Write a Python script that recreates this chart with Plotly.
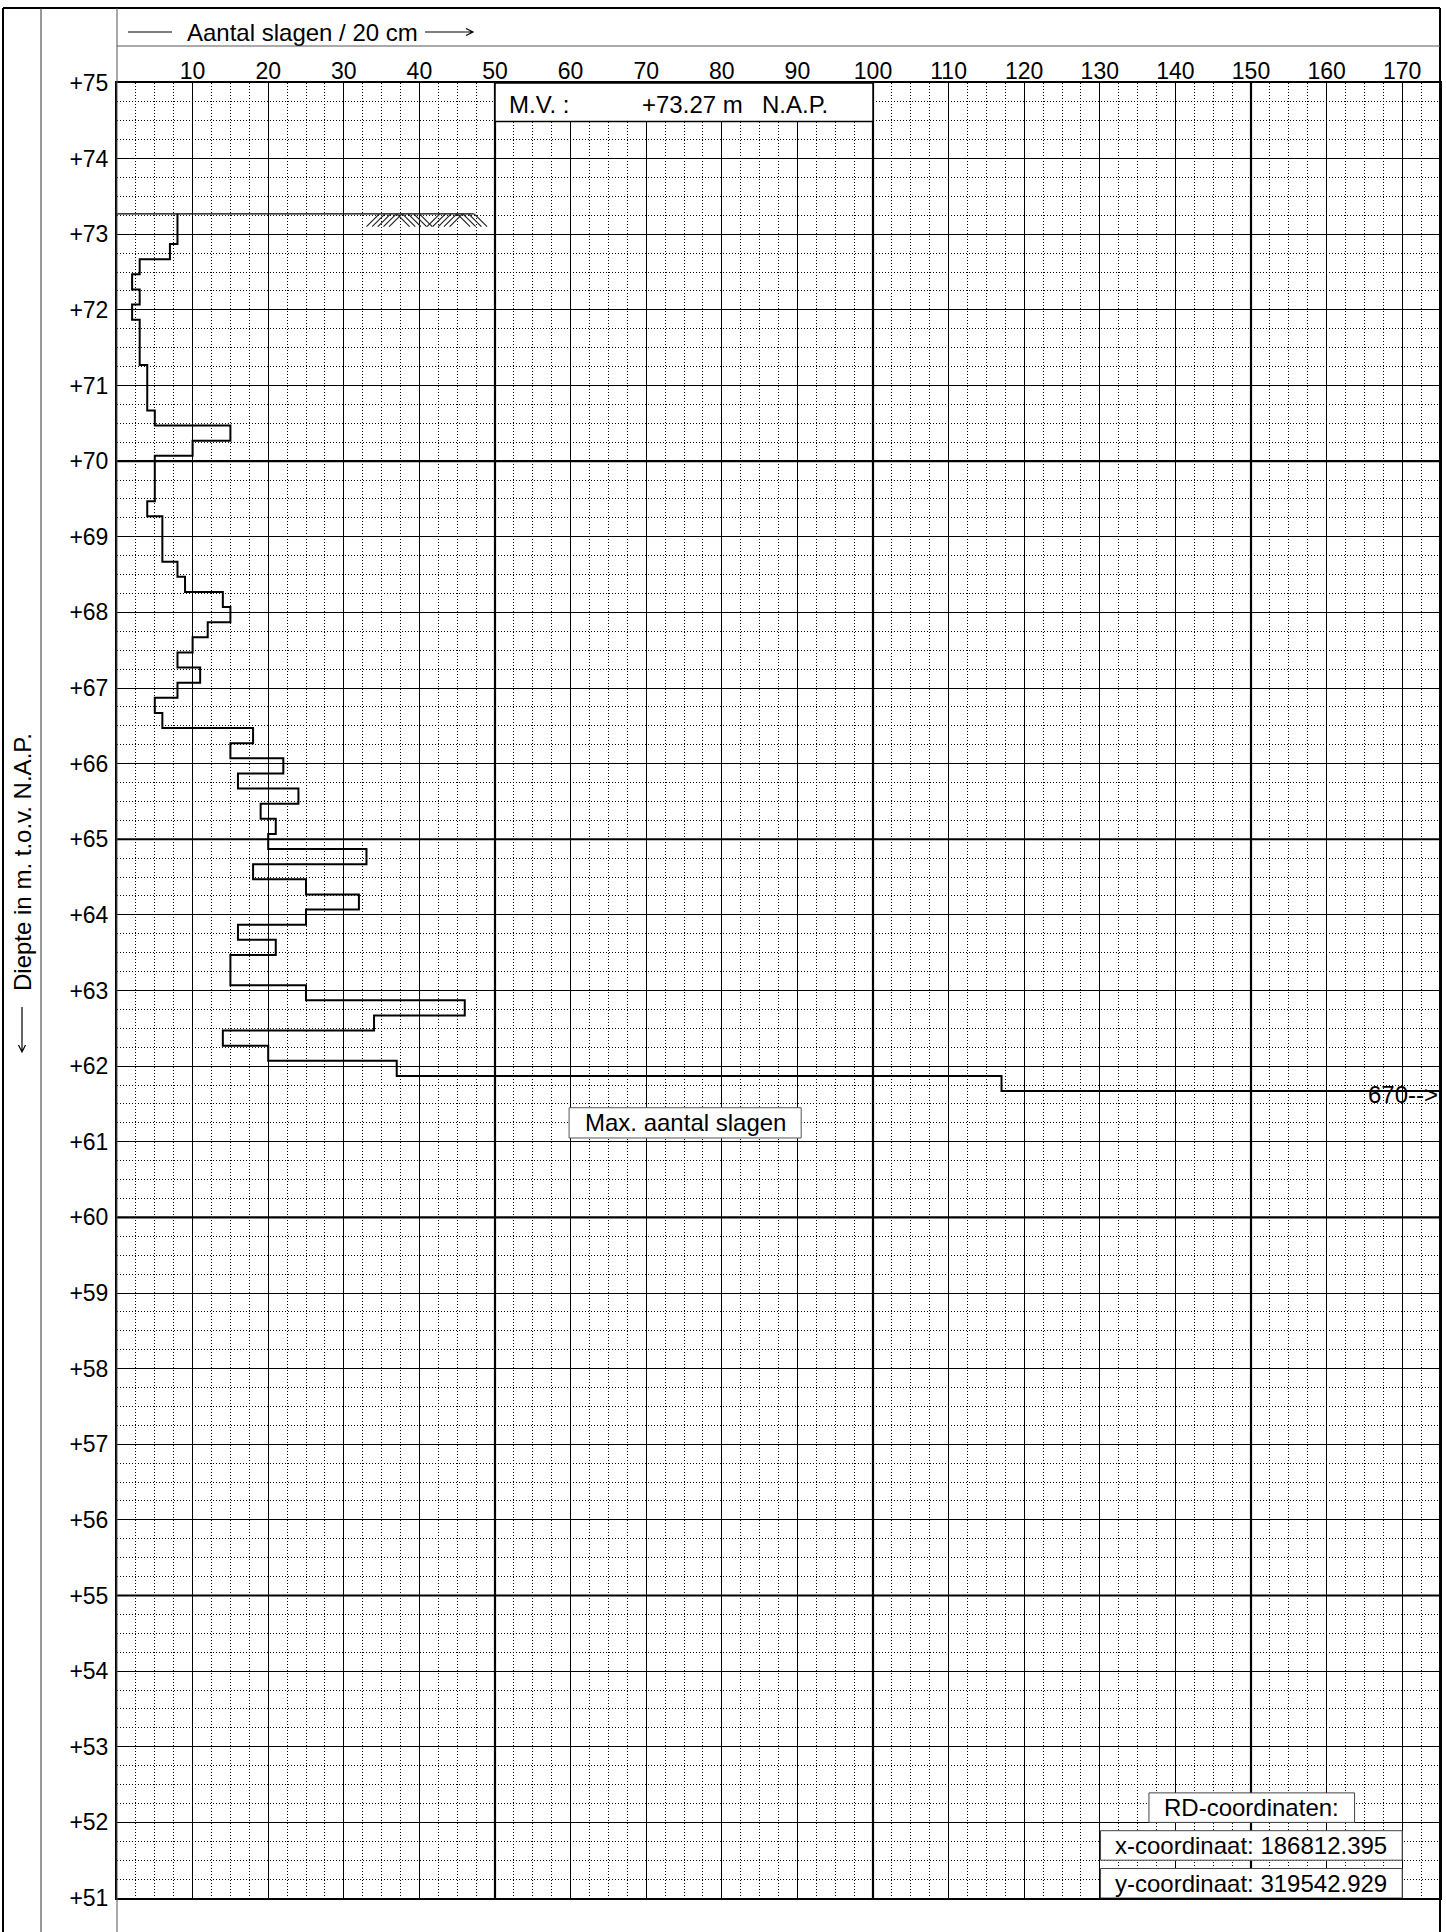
"""Sondeergrafiek: aantal slagen per 20 cm tegen diepte t.o.v. N.A.P. (Plotly)."""
import plotly.graph_objects as go

# ---- gegevens -------------------------------------------------------------
mv_level = 73.27  # maaiveld in m t.o.v. N.A.P.

# bovenkant van elk traject van 20 cm
diepte_top = [
    73.27, 73.07, 72.87, 72.67, 72.47, 72.27, 72.07, 71.87, 71.67, 71.47,
    71.27, 71.07, 70.87, 70.67, 70.47, 70.27, 70.07, 69.87, 69.67, 69.47,
    69.27, 69.07, 68.87, 68.67, 68.47, 68.27, 68.07, 67.87, 67.67, 67.47,
    67.27, 67.07, 66.87, 66.67, 66.47, 66.27, 66.07, 65.87, 65.67, 65.47,
    65.27, 65.07, 64.87, 64.67, 64.47, 64.27, 64.07, 63.87, 63.67, 63.47,
    63.27, 63.07, 62.87, 62.67, 62.47, 62.27, 62.07, 61.87, 61.67,
]
diepte_eind = 61.47

slagen = [
    8, 8, 7, 3, 2, 3, 2, 3, 3, 3,
    4, 4, 4, 5, 15, 10, 5, 5, 5, 4,
    6, 6, 6, 8, 9, 14, 15, 12, 10, 8,
    11, 8, 5, 6, 18, 15, 22, 16, 24, 19,
    21, 20, 33, 18, 25, 32, 25, 16, 21, 15,
    15, 25, 46, 34, 14, 20, 37, 117, 670,
]

x_ticks = [10, 20, 30, 40, 50, 60, 70, 80, 90, 100, 110, 120, 130, 140, 150, 160, 170]
x_dik = [50, 100, 150]          # dikke verticale lijnen
y_dik = [70, 65, 60, 55]        # dikke horizontale lijnen
mv_lijn_x = [0, 47.2]           # maaiveldstreep
arcering_x = [33.0, 48.8]       # maaiveldarcering

rd_x = "186812.395"
rd_y = "319542.929"

# ---- maatvoering (pixels) ---------------------------------------------------
W, H = 1446, 1932
L, R, T, B = 117, 6, 83, 34
PW, PH = W - L - R, H - T - B
FONT = "Liberation Sans, Arial, Helvetica, sans-serif"
FS_TICK = 23
FS = 24


def px(xp):
    return (xp - L) / PW


def py(yp):
    return (H - B - yp) / PH


def pad(*punten):
    """SVG-pad in paper-coordinaten uit pixelpunten; None start een nieuw deel."""
    d, nieuw = "", True
    for p in punten:
        if p is None:
            nieuw = True
            continue
        d += ("M" if nieuw else "L") + f"{px(p[0]):.5f},{py(p[1]):.5f} "
        nieuw = False
    return d.strip()


fig = go.Figure()

# sondeerlijn (trapvorm)
fig.add_trace(go.Scatter(
    x=slagen + [slagen[-1]], y=diepte_top + [diepte_eind],
    mode="lines", line=dict(color="black", width=2, shape="vh"),
    hoverinfo="skip", showlegend=False))

# maaiveld
fig.add_trace(go.Scatter(
    x=mv_lijn_x, y=[mv_level, mv_level], mode="lines",
    line=dict(color="black", width=1.2), hoverinfo="skip", showlegend=False))

# arcering onder het maaiveld: groepjes / en \ om en om
hx, hy = [], []
dx, dy, stap, groep = 1.7, 0.17, 0.75, 4.0
g = 0
x0 = arcering_x[0]
while x0 < arcering_x[1] - 1.0:
    for k in range(5):
        xs = x0 + k * stap
        if xs + dx > arcering_x[1] + 0.3:
            break
        if g % 2 == 0:   # "/"
            hx += [xs, xs + dx, None]
            hy += [mv_level - dy, mv_level, None]
        else:            # "\"
            hx += [xs, xs + dx, None]
            hy += [mv_level, mv_level - dy, None]
    x0 += groep
    g += 1
fig.add_trace(go.Scatter(x=hx, y=hy, mode="lines",
                         line=dict(color="#222", width=1.2),
                         hoverinfo="skip", showlegend=False))

shapes = []
# dikke rasterlijnen
for v in x_dik:
    shapes.append(dict(type="line", xref="x", yref="y", x0=v, x1=v, y0=51, y1=75,
                       line=dict(color="black", width=2.2), layer="between"))
for v in y_dik:
    shapes.append(dict(type="line", xref="x", yref="y", x0=0, x1=175, y0=v, y1=v,
                       line=dict(color="black", width=2.2), layer="between"))

# kaderlijnen rond het blad
kader = [
    (3, 8, 1440, 8, 2, "black"),
    (3, 8, 3, 1940, 2, "black"),
    (1440, 8, 1440, 1940, 2, "black"),
    (41, 8, 41, 1940, 1, "#333"),
    (117, 8, 117, 1940, 1, "#555"),
    (117, 46, 1440, 46, 1, "#555"),
]
for xa, ya, xb, yb, w, c in kader:
    shapes.append(dict(type="line", xref="paper", yref="paper",
                       x0=px(xa), y0=py(ya), x1=px(xb), y1=py(yb),
                       line=dict(color=c, width=w), layer="above"))

# pijlen bij de aslabels
shapes.append(dict(type="path", xref="paper", yref="paper", layer="above",
                   path=pad((128, 32), (172, 32), None,
                            (425, 32), (473, 32), None,
                            (466, 28.5), (473, 32), (466, 35.5)),
                   line=dict(color="black", width=1.2)))
shapes.append(dict(type="path", xref="paper", yref="paper", layer="above",
                   path=pad((22, 1007), (22, 1052), None,
                            (18.5, 1045), (22, 1052), (25.5, 1045)),
                   line=dict(color="black", width=1.2)))

# vakken met tekst
shapes.append(dict(type="rect", xref="x", yref="y", x0=50, x1=100, y0=74.49, y1=75,
                   fillcolor="white", line=dict(color="black", width=1.5), layer="above"))
shapes.append(dict(type="rect", xref="x", yref="y", x0=59.8, x1=90.5, y0=61.05, y1=61.45,
                   fillcolor="white", line=dict(color="#555", width=1), layer="above"))
shapes.append(dict(type="rect", xref="x", yref="y", x0=136.5, x1=163.7, y0=52.0, y1=52.39,
                   fillcolor="white", line=dict(color="#444", width=1), layer="above"))
shapes.append(dict(type="rect", xref="x", yref="y", x0=130.1, x1=170.0, y0=51.5, y1=51.89,
                   fillcolor="white", line=dict(color="#444", width=1), layer="above"))
shapes.append(dict(type="rect", xref="x", yref="y", x0=130.1, x1=170.0, y0=51.0, y1=51.39,
                   fillcolor="white", line=dict(color="#444", width=1), layer="above"))

txt = dict(showarrow=False, font=dict(family=FONT, size=FS, color="black"))
annotations = [
    dict(xref="paper", yref="paper", x=px(185), y=py(33), xanchor="left", yanchor="middle",
         text="Aantal slagen / 20 cm", **txt),
    dict(xref="paper", yref="paper", x=px(22), y=py(862), xanchor="center", yanchor="middle",
         text="Diepte in m. t.o.v. N.A.P.", textangle=-90, **txt),
    dict(xref="x", yref="y", x=51.6, y=74.72, xanchor="left", yanchor="middle",
         text="M.V. :", **txt),
    dict(xref="x", yref="y", x=69.2, y=74.72, xanchor="left", yanchor="middle",
         text=f"+{mv_level:.2f} m", **txt),
    dict(xref="x", yref="y", x=85.1, y=74.72, xanchor="left", yanchor="middle",
         text="N.A.P.", **txt),
    dict(xref="x", yref="y", x=75.15, y=61.25, xanchor="center", yanchor="middle",
         text="Max. aantal slagen", **txt),
    dict(xref="x", yref="y", x=175, y=61.62, xanchor="right", yanchor="middle",
         text=f"{slagen[-1]}-->", **txt),
    dict(xref="x", yref="y", x=150.1, y=52.2, xanchor="center", yanchor="middle",
         text="RD-coordinaten:", **txt),
    dict(xref="x", yref="y", x=150.0, y=51.695, xanchor="center", yanchor="middle",
         text=f"x-coordinaat: {rd_x}", **txt),
    dict(xref="x", yref="y", x=150.0, y=51.195, xanchor="center", yanchor="middle",
         text=f"y-coordinaat: {rd_y}", **txt),
]

fig.update_layout(
    width=W, height=H, margin=dict(l=L, r=R, t=T, b=B, pad=0),
    paper_bgcolor="white", plot_bgcolor="white",
    font=dict(family=FONT, size=FS_TICK, color="black"),
    shapes=shapes, annotations=annotations, showlegend=False,
    xaxis=dict(
        range=[0, 175], side="top", tickmode="array", tickvals=x_ticks,
        showgrid=True, gridcolor="black", gridwidth=1, zeroline=False,
        showline=True, linecolor="black", linewidth=2, mirror=True,
        ticks="", ticklabelstandoff=-7, tickfont=dict(size=FS_TICK), automargin=False,
        minor=dict(tickmode="linear", tick0=0, dtick=2.5, showgrid=True,
                   gridcolor="black", gridwidth=1, griddash="1px,2px"),
        fixedrange=True),
    yaxis=dict(
        range=[51, 75], tickmode="linear", tick0=51, dtick=1, tickprefix="+",
        showgrid=True, gridcolor="black", gridwidth=1, zeroline=False,
        showline=True, linecolor="black", linewidth=2, mirror=True,
        ticks="", ticklabelstandoff=2, tickfont=dict(size=FS_TICK), automargin=False,
        minor=dict(tickmode="linear", tick0=51, dtick=0.25, showgrid=True,
                   gridcolor="black", gridwidth=1, griddash="1px,2px"),
        fixedrange=True),
)

# body-marge van de browser weghalen zodat het blad op (0, 0) begint
fig.write_html("out.html", config={"displayModeBar": False},
               post_script="document.body.style.margin='0px';")
